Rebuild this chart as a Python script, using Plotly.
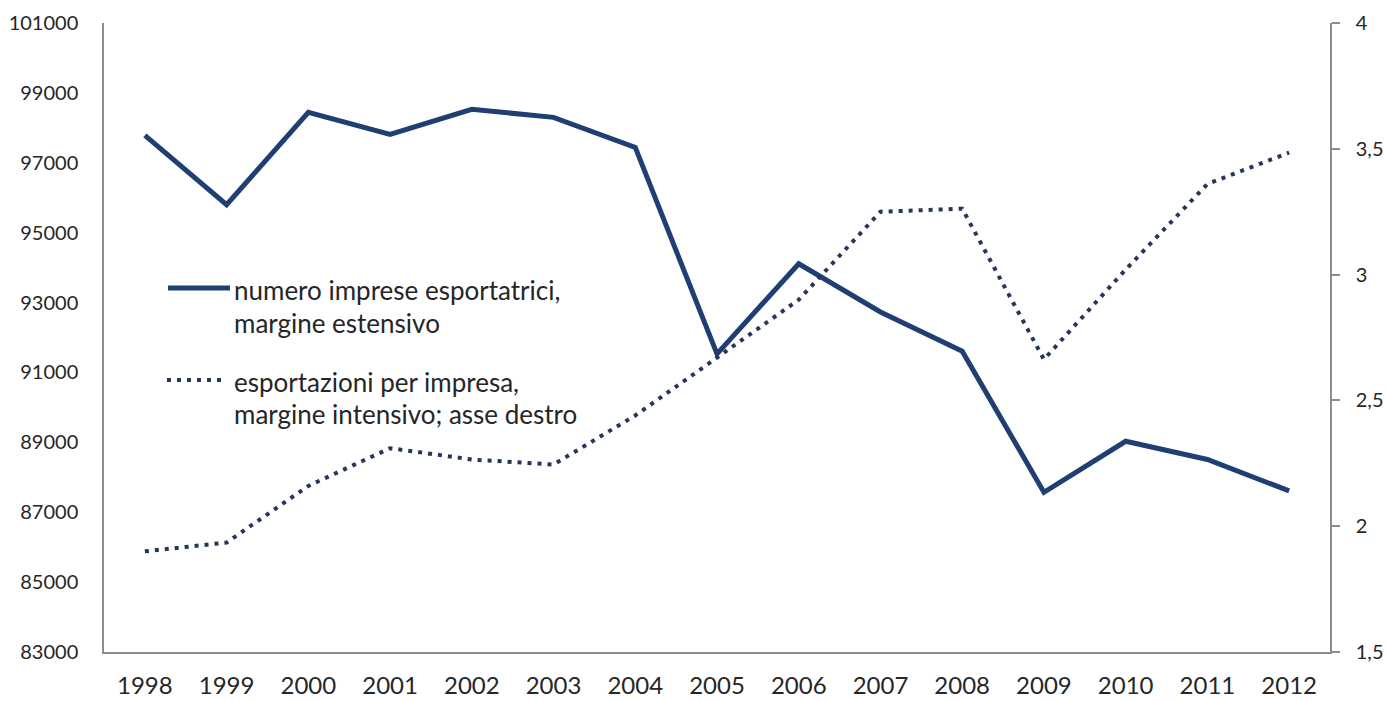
import plotly.graph_objects as go

# Anni e serie
anni = [str(a) for a in range(1998, 2013)]
numero_imprese = [97785, 95800, 98445, 97810, 98530, 98300, 97440, 91530,
                  94110, 92730, 91610, 87570, 89030, 88510, 87610]
export_per_impresa = [1.90, 1.935, 2.16, 2.31, 2.265, 2.245, 2.44, 2.67,
                      2.90, 3.25, 3.262, 2.663, 3.02, 3.36, 3.485]

# Etichette degli assi
sx_tickvals = [83000, 85000, 87000, 89000, 91000, 93000, 95000, 97000, 99000, 101000]
sx_ticktext = [str(v) for v in sx_tickvals]
dx_tickvals = [1.5, 2, 2.5, 3, 3.5, 4]
dx_ticktext = ["1,5", "2", "2,5", "3", "3,5", "4"]

nome_1 = ["numero imprese esportatrici,", "margine estensivo"]
nome_2 = ["esportazioni per impresa,", "margine intensivo; asse destro"]

W, H = 1387, 701
ML, MR, MT, MB = 104, 57, 23, 49
PW, PH = W - ML - MR, H - MT - MB

COL_SOLID = "#1f3f72"
COL_DOT = "#263659"
FONT = "Lato"
TXT = "#262626"


def px(x):
    return (x - ML) / PW


def py(y):
    return (H - MB - y) / PH


fig = go.Figure()
fig.add_trace(go.Scatter(
    x=anni, y=numero_imprese, mode="lines", yaxis="y",
    line=dict(color=COL_SOLID, width=5), name=" ".join(nome_1),
))
fig.add_trace(go.Scatter(
    x=anni, y=export_per_impresa, mode="lines", yaxis="y2",
    line=dict(color=COL_DOT, width=4, dash="4px,6px"), name=" ".join(nome_2),
))

# Legenda disegnata all'interno dell'area del grafico
shapes = [
    dict(type="line", xref="paper", yref="paper",
         x0=px(168), x1=px(230), y0=py(288), y1=py(288),
         line=dict(color=COL_SOLID, width=5)),
    dict(type="line", xref="paper", yref="paper",
         x0=px(167), x1=px(227), y0=py(380), y1=py(380),
         line=dict(color=COL_DOT, width=4, dash="4px,6px")),
]
annotations = []
for testo, ypix in [(nome_1[0], 290), (nome_1[1], 323), (nome_2[0], 382), (nome_2[1], 414)]:
    annotations.append(dict(
        text=testo, xref="paper", yref="paper", x=px(232), y=py(ypix),
        xanchor="left", yanchor="middle", showarrow=False,
        font=dict(family=FONT, size=26, color=TXT),
    ))

fig.update_layout(
    width=W, height=H,
    margin=dict(l=ML, r=MR, t=MT, b=MB, autoexpand=False),
    paper_bgcolor="white", plot_bgcolor="white",
    showlegend=False,
    font=dict(family=FONT, size=20, color=TXT),
    shapes=shapes, annotations=annotations,
    xaxis=dict(
        type="category", range=[-0.5, 14.5], showgrid=False, zeroline=False,
        showline=True, linecolor="#8c8c8c", linewidth=1.5, ticks="",
        tickfont=dict(size=24), ticklabelstandoff=11, automargin=False,
    ),
    yaxis=dict(
        range=[83000, 101000], tickvals=sx_tickvals, ticktext=sx_ticktext,
        showgrid=False, zeroline=False, showline=True, linecolor="#8c8c8c",
        linewidth=1.5, ticks="", tickfont=dict(size=20), ticklabelstandoff=20,
        automargin=False,
    ),
    yaxis2=dict(
        range=[1.5, 4], tickvals=dx_tickvals, ticktext=dx_ticktext,
        overlaying="y", side="right", showgrid=False, zeroline=False,
        showline=True, linecolor="#8c8c8c", linewidth=1.5,
        ticks="outside", ticklen=8, tickcolor="#8c8c8c", tickwidth=1.5,
        tickfont=dict(size=20), ticklabelstandoff=12, automargin=False,
    ),
)

fig.write_html("out.html")
